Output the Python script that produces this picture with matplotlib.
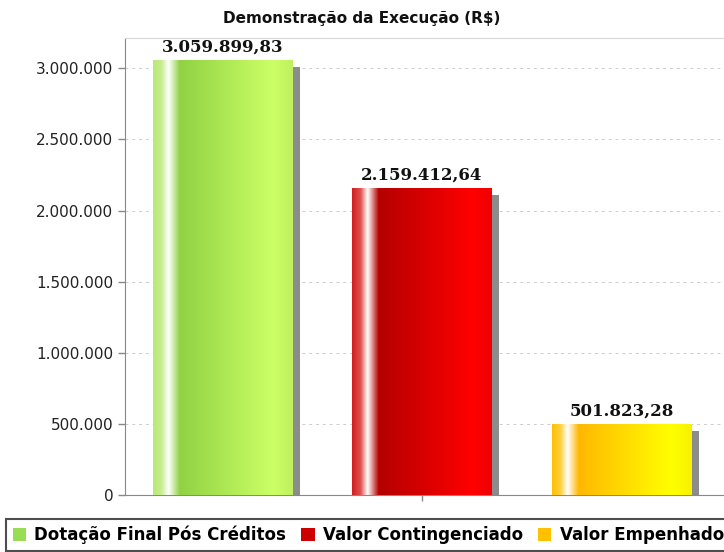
import matplotlib
matplotlib.use("Agg")
import matplotlib.pyplot as plt
import matplotlib.patheffects as pe
from matplotlib.colors import LinearSegmentedColormap
from matplotlib.patches import Patch
from matplotlib.ticker import FuncFormatter
import numpy as np

# dados
series = ["Dotação Final Pós Créditos", "Valor Contingenciado", "Valor Empenhado"]
valores = [3059899.83, 2159412.64, 501823.28]
rotulos = ["3.059.899,83", "2.159.412,64", "501.823,28"]
yticks = [0, 500000, 1000000, 1500000, 2000000, 2500000, 3000000]

# cores base e gradientes (estilo JFreeChart)
cores_legenda = ["#99dd55", "#cc0000", "#ffc000"]
gradientes = [
    ["#b8e878", "#c8ee90", "#ffffff", "#90d244", "#ccff66", "#bff060"],
    ["#d02020", "#e05050", "#ffffff", "#b40000", "#ff0000", "#f00000"],
    ["#ffc000", "#ffd040", "#ffffff", "#ffb800", "#ffff00", "#f8f000"],
]
stops = [0.0, 0.06, 0.11, 0.19, 0.86, 1.0]


def fmt_br(v, pos):
    return f"{int(v):,}".replace(",", ".")


fig = plt.figure(figsize=(7.24, 5.52), dpi=100)
ax = fig.add_axes([125 / 724, 1 - 495 / 552, 1 - 125 / 724, (495 - 38) / 552])

x = np.arange(len(valores))
barras = ax.bar(x, valores, width=0.70, color=cores_legenda, zorder=2,
                path_effects=[pe.SimplePatchShadow(offset=(5.5, -5.5), shadow_rgbFace="#8c8c8c", alpha=1.0),
                              pe.Normal()])

for b, cores in zip(barras, gradientes):
    cmap = LinearSegmentedColormap.from_list("g", list(zip(stops, cores)))
    grad = np.linspace(0, 1, 256).reshape(1, -1)
    im = ax.imshow(grad, cmap=cmap, aspect="auto", zorder=3,
                   extent=(b.get_x(), b.get_x() + b.get_width(), 0, b.get_height()))
    im.set_clip_path(b)

for b, txt in zip(barras, rotulos):
    ax.text(b.get_x() + b.get_width() / 2, b.get_height() + 30000, txt,
            ha="center", va="bottom", fontsize=12, fontweight="bold",
            family="DejaVu Serif", color="#111111", zorder=4)

ax.set_xlim(-0.489, 2.514)
ax.set_ylim(0, max(valores) * 1.05)
ax.set_yticks(yticks)
ax.yaxis.set_major_formatter(FuncFormatter(fmt_br))
ax.set_xticks([1])
ax.set_xticklabels([""])
ax.tick_params(axis="y", labelsize=11, colors="#888888", labelcolor="#222222", length=5, width=1)
ax.tick_params(axis="x", colors="#888888", length=4, width=1)
ax.grid(axis="y", color="#cccccc", linestyle=(0, (3, 4)), linewidth=0.7, zorder=0)
ax.set_axisbelow(True)
ax.spines["left"].set_color("#888888")
ax.spines["bottom"].set_color("#888888")
ax.spines["top"].set_color("#d8d8d8")
ax.spines["right"].set_visible(False)

fig.text(0.5, 1 - 18 / 552, "Demonstração da Execução (R$)", ha="center", va="center",
         fontsize=11, fontweight="bold", color="#111111")

handles = [Patch(facecolor=c, edgecolor="none") for c in cores_legenda]
leg = fig.legend(handles, series, loc="lower left", bbox_to_anchor=(6 / 724, 1 / 552),
                 ncol=3, frameon=True, fancybox=False, prop={"weight": "bold", "size": 12},
                 handlelength=0.8, handleheight=0.8, handletextpad=0.5, columnspacing=0.9,
                 borderpad=0.4, borderaxespad=0)
leg.get_frame().set_edgecolor("#222222")
leg.get_frame().set_linewidth(1.5)

fig.savefig("out.png", dpi=100)
